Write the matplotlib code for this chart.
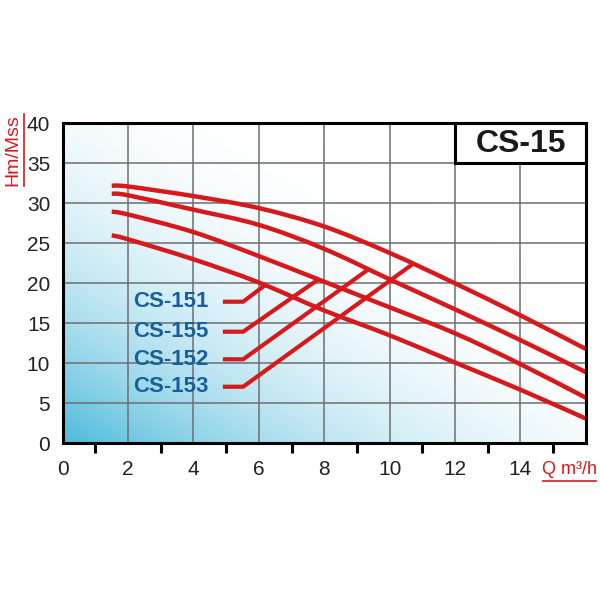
import numpy as np
import matplotlib
matplotlib.use("Agg")
import matplotlib.pyplot as plt
from matplotlib.patches import Rectangle, PathPatch
from matplotlib.path import Path
from matplotlib.lines import Line2D

# ---------------- data ----------------
flow = [1.5, 2, 4, 6, 8, 10, 12, 14, 16]
cs153 = [32.2, 32.1, 30.9, 29.4, 27.1, 23.8, 20.0, 16.0, 11.8]
cs152 = [31.2, 31.0, 29.2, 27.3, 24.3, 20.5, 16.75, 12.9, 8.9]
cs155 = [28.95, 28.6, 26.4, 23.4, 20.2, 17.0, 13.75, 9.9, 5.7]
cs151 = [26.0, 25.5, 23.0, 20.1, 16.6, 13.5, 10.1, 6.7, 3.1]
models = ["CS-151", "CS-155", "CS-152", "CS-153"]
series = [cs151, cs155, cs152, cs153]
x_labels = ["0", "2", "4", "6", "8", "10", "12", "14"]
y_labels = ["0", "5", "10", "15", "20", "25", "30", "35", "40"]
title = "CS-15"

FONT = ["Liberation Sans", "DejaVu Sans"]
plt.rcParams["font.family"] = FONT

RED = "#d7191c"
BLUE = "#1a5f98"


def smooth_path(xs, ys):
    """Catmull-Rom curve through the data points as cubic Bezier segments."""
    p = np.column_stack([xs, ys]).astype(float)
    n = len(p)
    verts = [p[0]]
    codes = [Path.MOVETO]
    for i in range(n - 1):
        p0 = p[i - 1] if i > 0 else p[i]
        p1, p2 = p[i], p[i + 1]
        p3 = p[i + 2] if i + 2 < n else p[i + 1]
        c1 = p1 + (p2 - p0) / 6.0
        c2 = p2 - (p3 - p1) / 6.0
        verts += [c1, c2, p2]
        codes += [Path.CURVE4] * 3
    return Path(verts, codes)


fig = plt.figure(figsize=(6, 6), dpi=100)
ax = fig.add_axes([62.7 / 600, 1 - 443.3 / 600, 523 / 600, 320 / 600])
ax.set_xlim(0, 16)
ax.set_ylim(0, 40)

# background gradient (blue bottom-left fading to white)
nx, ny = 300, 300
gx, gy = np.meshgrid(np.linspace(0, 1, nx), np.linspace(0, 1, ny))
u = gx + gy
a = np.clip(1 - u / 1.45, 0, 1) ** 2.3
blue = np.array([0.30, 0.73, 0.86])
img = (1 - a[..., None]) * np.array([1.0, 1.0, 1.0]) + a[..., None] * blue
ax.imshow(img, extent=[0, 16, 0, 40], origin="lower", aspect="auto", zorder=0)

# grid
for gx_ in range(2, 16, 2):
    ax.axvline(gx_, color="#6e6e6e", lw=1.1, zorder=1)
for gy_ in range(5, 40, 5):
    ax.axhline(gy_, color="#6e6e6e", lw=1.1, zorder=1)

# curves
for s in series:
    ax.add_patch(PathPatch(smooth_path(flow, s), facecolor="none",
                           edgecolor=RED, lw=3.2, capstyle="butt", zorder=3))

# leader lines
label_y = [17.7, 13.95, 10.5, 7.07]
end_x = [6.19, 7.82, 9.35, 10.72]
for name, s, ly, ex in zip(models, series, label_y, end_x):
    ey = np.interp(ex, flow, s)
    ax.plot([4.9, 5.52, ex], [ly, ly, ey], color=RED, lw=3.0,
            solid_joinstyle="miter", solid_capstyle="butt", zorder=3)
    ax.text(4.45, ly, name, ha="right", va="center", color=BLUE,
            fontsize=16, fontweight="bold", family=FONT, zorder=4)

# title box
ax.add_patch(Rectangle((12, 35), 4, 5, facecolor="white", edgecolor="black",
                       lw=2.2, zorder=5, clip_on=False))
ax.text(14.03, 37.45, title, ha="center", va="center", fontsize=23,
        fontweight="bold", color="#1a1a1a", family=FONT, zorder=6)

# ticks
ax.set_xticks(range(0, 16, 2))
ax.set_xticklabels(x_labels)
ax.set_xticks(range(1, 16, 2), minor=True)
ax.tick_params(axis="x", which="major", length=0, pad=12, labelsize=15,
               labelcolor="#222222")
ax.tick_params(axis="x", which="minor", length=7, width=2.2, direction="out",
               color="black")
ax.set_yticks(range(0, 41, 5))
ax.set_yticklabels(y_labels)
ax.tick_params(axis="y", which="major", length=0, pad=9, labelsize=15,
               labelcolor="#222222")

for sp in ax.spines.values():
    sp.set_linewidth(2.2)
    sp.set_color("black")
    sp.set_zorder(7)

# axis titles (underlined, red)
fig.text(569 / 600, 1 - 469 / 600, "Q m³/h", ha="center", va="center",
         color=RED, fontsize=13, family=FONT)
fig.add_artist(Line2D([543 / 600, 596 / 600], [1 - 481 / 600, 1 - 481 / 600],
                      color=RED, lw=1.2))
fig.text(13 / 600, 1 - 150 / 600, "Hm/Mss", ha="center", va="center",
         rotation=90, color=RED, fontsize=14, family=FONT)
fig.add_artist(Line2D([24 / 600, 24 / 600], [1 - 114 / 600, 1 - 186 / 600],
                      color=RED, lw=1.2))

fig.savefig("out.png", dpi=100)
